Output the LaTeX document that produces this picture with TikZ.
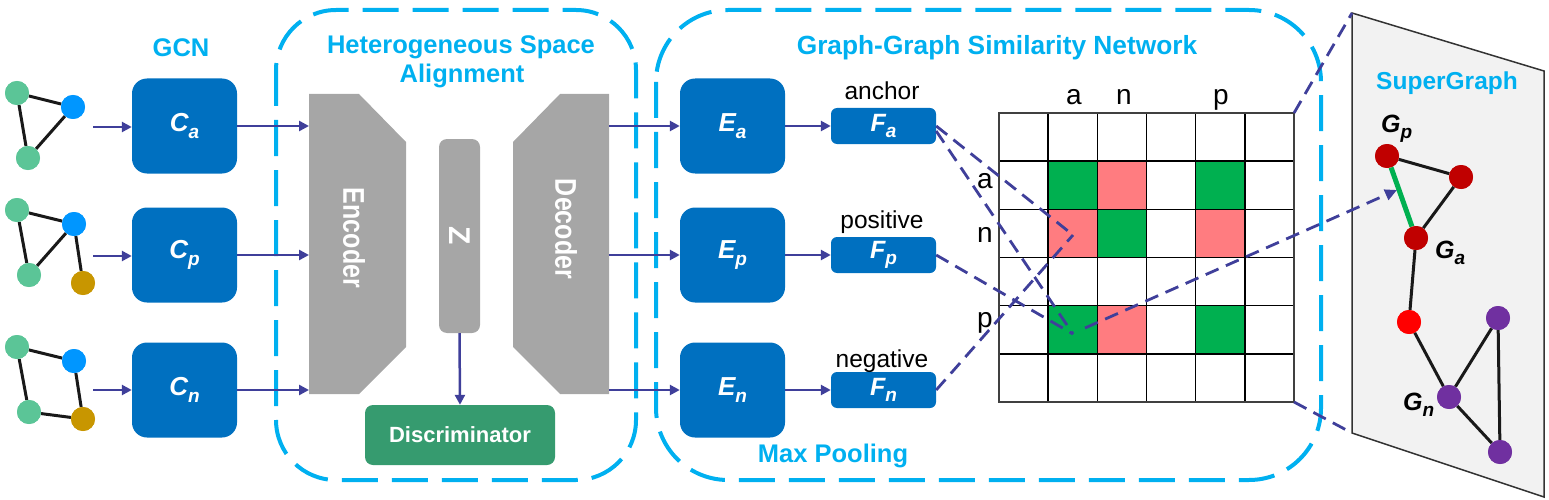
\documentclass[tikz,border=0pt]{standalone}
\usepackage{fontspec}
\usepackage{graphicx}
\setmainfont{Liberation Sans}
\usetikzlibrary{arrows.meta,calc}
\definecolor{boxblue}{HTML}{0070C0}
\definecolor{cyanline}{HTML}{00B0F0}
\definecolor{encgray}{HTML}{A6A6A6}
\definecolor{discgreen}{HTML}{369B6F}
\definecolor{arrowblue}{HTML}{3F3F9A}
\definecolor{nodegreen}{HTML}{5BC597}
\definecolor{nodeblue}{HTML}{0096FF}
\definecolor{nodegold}{HTML}{C89600}
\definecolor{sgdark}{HTML}{C00000}
\definecolor{sgred}{HTML}{FF0000}
\definecolor{sgpurple}{HTML}{7030A0}
\definecolor{cellgreen}{HTML}{00B050}
\definecolor{cellpink}{HTML}{FF7C80}
\definecolor{panelgray}{HTML}{F2F2F2}
\newcommand{\fsz}[1]{\fontsize{#1}{#1}\selectfont}
\newcommand{\subl}[3]{#1\raisebox{-#3pt}{\fsz{19}#2}}
\begin{document}
\begin{tikzpicture}[x=1pt,y=-1pt,
  title/.style={text=cyanline,font=\fsz{25.5}\bfseries,inner sep=0pt,anchor=base},
  groupbox/.style={draw=cyanline,line width=4pt,dash pattern=on 36pt off 14pt},
  bigbox/.style={fill=boxblue,rounded corners=15pt,minimum width=105pt,minimum height=95pt,text=white,font=\fsz{26}\bfseries\itshape,inner sep=0pt},
  featbox/.style={fill=boxblue,rounded corners=6pt,minimum width=105pt,minimum height=36pt,text=white,font=\fsz{25}\bfseries\itshape,inner sep=0pt},
  flow/.style={draw=arrowblue,line width=2.5pt,-{Triangle[length=10pt,width=10pt]}},
  link/.style={draw=arrowblue,line width=2.8pt,dash pattern=on 14pt off 8pt},
  gnode/.style={circle,minimum size=24pt,inner sep=0pt,draw=none},
  gedge/.style={draw=black!90,line width=3pt},
  lbl/.style={font=\fsz{24.5},inner sep=0pt,anchor=base},
  gridlbl/.style={font=\fsz{28},inner sep=0pt,anchor=base},
  glabel/.style={font=\fsz{25}\bfseries\itshape,inner sep=0pt,anchor=base west},
  gridline/.style={draw=black,line width=1.6pt},
  encshape/.style={fill=encgray,draw=none},
  enctext/.style={text=white,font=\fsz{25}\bfseries,inner sep=0pt}
]
\useasboundingbox (0,0) rectangle (1549,500);

% ---------- titles ----------
\node[title] (gcn) at (181,57) {GCN};
\node[title] (hsa1) at (461,54) {Heterogeneous Space};
\node[title] (hsa2) at (462,83) {Alignment};
\node[title,font=\fsz{26.3}\bfseries] (ggsn) at (997,55) {Graph-Graph Similarity Network};
\node[title] (maxp) at (833,462) {Max Pooling};

% ---------- group boxes ----------
\draw[groupbox,rounded corners=60pt] (276,10) rectangle (636,480);
\draw[groupbox,rounded corners=72pt] (656,10) rectangle (1321,480);

% ---------- input graphs ----------
\node[gnode,fill=nodegreen] (g1a) at (17,93) {};
\node[gnode,fill=nodeblue]  (g1b) at (73,107) {};
\node[gnode,fill=nodegreen] (g1c) at (28,158) {};
\node[gnode,fill=nodegreen] (g2a) at (17,210) {};
\node[gnode,fill=nodeblue]  (g2b) at (74,224) {};
\node[gnode,fill=nodegreen] (g2c) at (29,275) {};
\node[gnode,fill=nodegold]  (g2d) at (83,283) {};
\node[gnode,fill=nodegreen] (g3a) at (17,347) {};
\node[gnode,fill=nodeblue]  (g3b) at (74,361) {};
\node[gnode,fill=nodegreen] (g3c) at (29,412) {};
\node[gnode,fill=nodegold]  (g3d) at (83,419) {};
\draw[gedge] (g1a) -- (g1b) (g1b) -- (g1c) (g1a) -- (g1c);
\draw[gedge] (g2a) -- (g2b) (g2a) -- (g2c) (g2b) -- (g2c) (g2b) -- (g2d);
\draw[gedge] (g3a) -- (g3b) (g3a) -- (g3c) (g3b) -- (g3d) (g3c) -- (g3d);
\foreach \n/\c in {g1a/nodegreen,g1b/nodeblue,g1c/nodegreen,g2a/nodegreen,g2b/nodeblue,g2c/nodegreen,g2d/nodegold,g3a/nodegreen,g3b/nodeblue,g3c/nodegreen,g3d/nodegold}
  \fill[\c] (\n.center) circle (12pt);

% ---------- GCN boxes ----------
\node[bigbox] (Ca) at (184.5,126) {\subl{C}{a}{7}};
\node[bigbox] (Cp) at (184.5,255) {\subl{C}{p}{7}};
\node[bigbox] (Cn) at (184.5,390) {\subl{C}{n}{7}};
\coordinate (in1) at (93,127);
\coordinate (in2) at (93,256);
\coordinate (in3) at (93,390);
\draw[flow] (in1) -- (in1 -| Ca.west);
\draw[flow] (in2) -- (in2 -| Cp.west);
\draw[flow] (in3) -- (in3 -| Cn.west);

% ---------- encoder / Z / decoder ----------
\draw[encshape] (309,94) -- (359,94) -- (406,142) -- (406,347) -- (359,394) -- (309,394) -- cycle;
\draw[encshape] (609,94) -- (560,94) -- (513,142) -- (513,347) -- (560,394) -- (609,394) -- cycle;
\node[enctext] (enc) at (354,238) {\rotatebox{-90}{\scalebox{1}[1.2]{Encoder}}};
\node[enctext] (dec) at (566,229) {\rotatebox{-90}{\scalebox{1}[1.2]{Decoder}}};
\node[fill=encgray,rounded corners=8pt,minimum width=41pt,minimum height=194pt,inner sep=0pt,text=white,font=\fsz{30}\bfseries] (Z) at (459.5,236) {\rotatebox{-90}{Z}};
\node[fill=discgreen,rounded corners=8pt,minimum width=190pt,minimum height=60pt,inner sep=0pt,text=white,font=\fsz{22}\bfseries] (disc) at (460,435) {Discriminator};
\draw[flow] (Z.south) -- (disc.north);

\coordinate (encA) at (309,126);
\coordinate (encP) at (309,255);
\coordinate (encN) at (309,390);
\coordinate (decA) at (609,126);
\coordinate (decP) at (609,255);
\coordinate (decN) at (609,390);
\draw[flow] (Ca.east) -- (encA);
\draw[flow] (Cp.east) -- (encP);
\draw[flow] (Cn.east) -- (encN);

% ---------- E and F boxes ----------
\node[bigbox] (Ea) at (732.5,126) {\subl{E}{a}{7}};
\node[bigbox] (Ep) at (732.5,255) {\subl{E}{p}{7}};
\node[bigbox] (En) at (732.5,390) {\subl{E}{n}{7}};
\draw[flow] (decA) -- (Ea.west);
\draw[flow] (decP) -- (Ep.west);
\draw[flow] (decN) -- (En.west);

\node[featbox] (Fa) at (883.5,126) {\subl{F}{a}{6}};
\node[featbox] (Fp) at (883.5,255) {\subl{F}{p}{6}};
\node[featbox] (Fn) at (883.5,390) {\subl{F}{n}{6}};
\draw[flow] (Ea.east) -- (Fa.west);
\draw[flow] (Ep.east) -- (Fp.west);
\draw[flow] (En.east) -- (Fn.west);

\node[lbl] (anc) at (882,100) {anchor};
\node[lbl] (pos) at (882,228) {positive};
\node[lbl] (neg) at (882,367) {negative};

% ---------- similarity grid ----------
\foreach \c/\r/\col in {1/1/cellgreen,2/1/cellpink,4/1/cellgreen,1/2/cellpink,2/2/cellgreen,4/2/cellpink,1/4/cellgreen,2/4/cellpink,4/4/cellgreen}
  \fill[\col] (999+49.17*\c,113+48.17*\r) rectangle ++(49.17,48.17);
\foreach \i in {0,...,6} {
  \draw[gridline] (999+49.17*\i,113) -- (999+49.17*\i,402);
  \draw[gridline] (999,113+48.17*\i) -- (1294,113+48.17*\i);
}
\draw[draw=black!75,line width=2pt] (999,113) rectangle (1294,402);

\node[gridlbl] (ca) at (1074,105) {a};
\node[gridlbl] (cn) at (1124,105) {n};
\node[gridlbl] (cp) at (1221,105) {p};
\node[gridlbl] (ra) at (985,188) {a};
\node[gridlbl] (rn) at (985,242) {n};
\node[gridlbl] (rp) at (985,327) {p};

% ---------- SuperGraph panel ----------
\coordinate (panelTL) at (1352,13);
\coordinate (panelTR) at (1544,71);
\coordinate (panelBR) at (1544,497);
\coordinate (panelBL) at (1352,433);
\draw[fill=panelgray,draw=black!80,line width=1.5pt] (panelTL) -- (panelTR) -- (panelBR) -- (panelBL) -- cycle;
\node[title,font=\fsz{24.5}\bfseries] (sg) at (1447,90) {SuperGraph};

\node[gnode,fill=sgdark]   (sGp) at (1387,156) {};
\node[gnode,fill=sgdark]   (sR)  at (1461,177) {};
\node[gnode,fill=sgdark]   (sGa) at (1416,238) {};
\node[gnode,fill=sgred]    (sRr) at (1409,322) {};
\node[gnode,fill=sgpurple] (sPt) at (1498,318) {};
\node[gnode,fill=sgpurple] (sGn) at (1449,397) {};
\node[gnode,fill=sgpurple] (sPb) at (1500,452) {};
\draw[gedge] (sGp) -- (sR) (sR) -- (sGa) (sGa) -- (sRr) (sRr) -- (sGn) (sGn) -- (sPt) (sPt) -- (sPb) (sGn) -- (sPb);
\draw[draw=cellgreen,line width=5pt] (sGp) -- (sGa);
\foreach \n/\c in {sGp/sgdark,sR/sgdark,sGa/sgdark,sRr/sgred,sPt/sgpurple,sGn/sgpurple,sPb/sgpurple}
  \fill[\c] (\n.center) circle (12pt);
\node[glabel] (lGp) at (1381,132) {\subl{G}{p}{6}};
\node[glabel] (lGa) at (1435,258) {\subl{G}{a}{6}};
\node[glabel] (lGn) at (1403,410) {\subl{G}{n}{6}};

% ---------- dashed connectors ----------
\coordinate (simAN) at (1073,235);
\coordinate (simAP) at (1073,334);
\coordinate (simStart) at (1085,328);
\coordinate (edgeHit) at (1397,190);
\coordinate (gridTR) at (1294,113);
\coordinate (gridBR) at (1294,402);
\draw[link] (Fa.east) -- (simAN);
\draw[link] ([yshift=-5pt]Fa.east) -- (simAP);
\draw[link] (Fp.east) -- (simAP);
\draw[link] (Fn.east) -- (simAN);
\draw[link,-{Triangle[length=12pt,width=11pt]}] (simStart) -- (edgeHit);
\draw[link] (gridTR) -- (panelTL);
\draw[link] (gridBR) -- (panelBL);
\end{tikzpicture}
\end{document}
